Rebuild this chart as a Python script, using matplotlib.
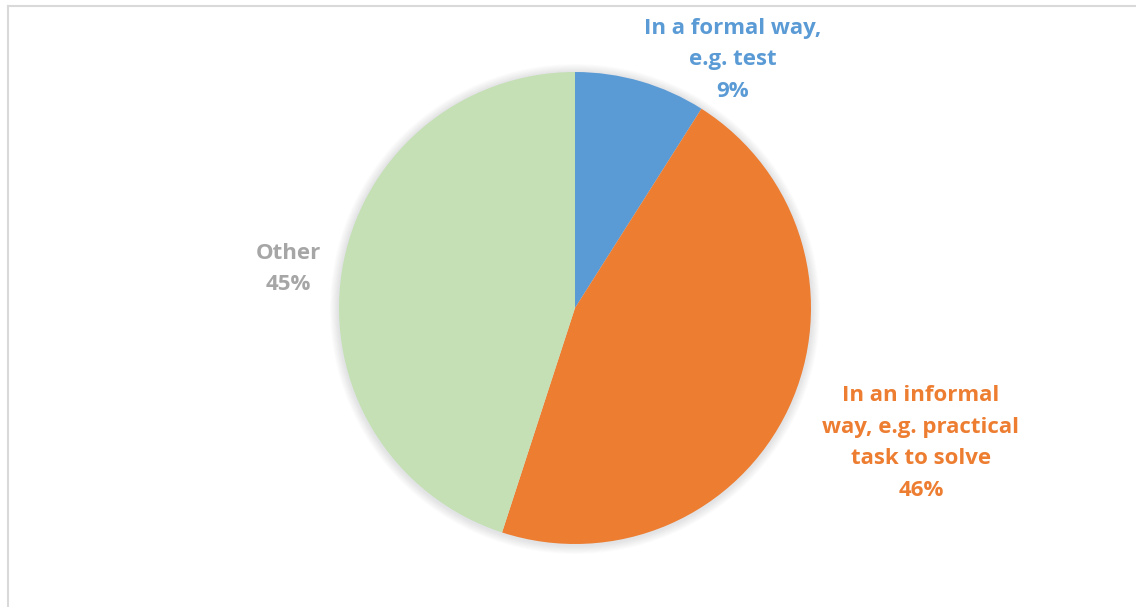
import matplotlib
matplotlib.use("Agg")
import matplotlib.pyplot as plt
from matplotlib.patches import Circle
from matplotlib.lines import Line2D

# Survey answers and their shares (percent)
categories = ["In a formal way,\ne.g. test",
              "In an informal\nway, e.g. practical\ntask to solve",
              "Other"]
shares = [9, 46, 45]
colors = ["#5B9BD5", "#ED7D31", "#C5E0B4"]
label_colors = ["#5B9BD5", "#ED7D31", "#A6A6A6"]

W, H = 1136, 607
fig = plt.figure(figsize=(W / 100, H / 100), dpi=100)
ax = fig.add_axes([0, 0, 1, 1])

cx, cy, r = 575, H - 308, 236

# soft glow behind the pie
for i in range(10, 0, -1):
    ax.add_patch(Circle((cx, cy - 1), r + i * 0.9, color="#9aa0a6",
                        alpha=0.028, lw=0, zorder=1))

wedges, _ = ax.pie(shares, colors=colors, startangle=90, counterclock=False,
                   center=(cx, cy), radius=r, frame=True,
                   wedgeprops=dict(linewidth=0, zorder=2))
ax.set_xlim(0, W)
ax.set_ylim(0, H)
ax.set_aspect("equal")
ax.axis("off")

# data labels: category name above its percentage
label_pos = [(733, H - 60), (921, H - 443), (288, H - 269)]
for name, val, col, (x, y) in zip(categories, shares, label_colors, label_pos):
    ax.text(x, y, f"{name}\n{val}%", ha="center", va="center",
            color=col, fontsize=16, fontweight="bold", family="Open Sans",
            linespacing=1.66, zorder=5)

# chart-area frame (top and left edges)
fig.add_artist(Line2D([7.5 / W, 1], [1 - 5.5 / H, 1 - 5.5 / H],
                      transform=fig.transFigure, color="#D9D9D9", lw=1.5))
fig.add_artist(Line2D([7.5 / W, 7.5 / W], [0, 1 - 5.5 / H],
                      transform=fig.transFigure, color="#D9D9D9", lw=1.5))

fig.savefig("out.png", dpi=100, facecolor="white")
